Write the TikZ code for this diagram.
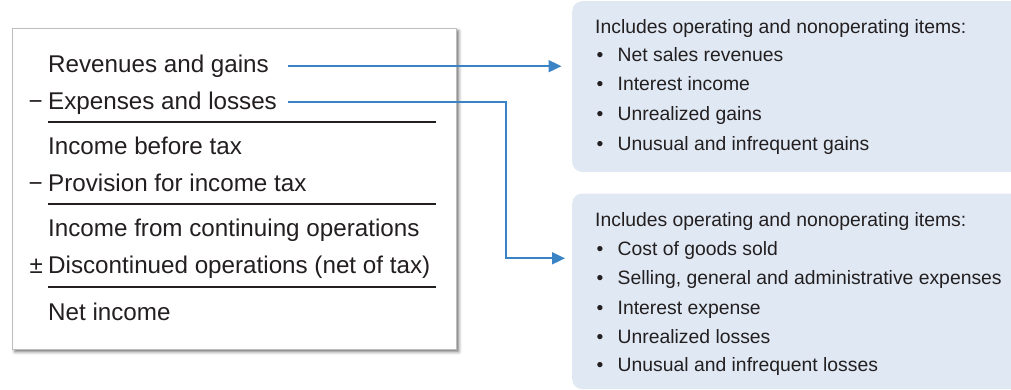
\documentclass[tikz,border=0pt]{standalone}
\usepackage{fontspec}
\setmainfont{Liberation Sans}
\usetikzlibrary{arrows.meta,shadows.blur}
\definecolor{txt}{HTML}{231F20}
\definecolor{arrowblue}{HTML}{3A84C6}
\definecolor{boxfill}{HTML}{DFE8F3}
\definecolor{frame}{HTML}{BDBDBD}
\begin{document}
\begin{tikzpicture}[x=1pt,y=-1pt,
  lt/.style={anchor=base west,inner sep=0pt,text=txt,font=\fontsize{24.2}{29}\selectfont},
  sg/.style={anchor=base east,inner sep=0pt,text=txt,font=\fontsize{24.2}{29}\selectfont},
  rt/.style={anchor=base west,inner sep=0pt,text=txt,font=\fontsize{19.35}{23}\selectfont},
  bul/.style={anchor=base west,inner sep=0pt,text=txt,font=\fontsize{19.35}{23}\selectfont},
  rulel/.style={line width=2pt,draw=txt},
  arr/.style={line width=1.8pt,draw=arrowblue,-{Triangle[length=13pt,width=12pt]}},
  bluebox/.style={fill=boxfill,rounded corners=10pt,inner sep=0pt,anchor=north west},
  stmtbox/.style={draw=frame,line width=0.6pt,fill=white,inner sep=0pt,anchor=north west,
    blur shadow={shadow xshift=2.5pt,shadow yshift=-2.5pt,shadow blur radius=3pt,shadow opacity=55}}
]
\useasboundingbox (0,0) rectangle (1011,389);
\clip (0,0) rectangle (1011,389);

% statement box
\node[stmtbox,minimum width=444pt,minimum height=321pt] (stmt) at (12,28) {};
\node[lt] (rev) at (48,72.7) {Revenues and gains};
\node[lt] (exp) at (48,109) {Expenses and losses};
\node[sg] (expsg) at (43,109) {−};
\draw[rulel] (48,121.7) -- (436,121.7);
\node[lt] (ibt) at (48,154) {Income before tax};
\node[lt] (prov) at (48,191.5) {Provision for income tax};
\node[sg] (provsg) at (43,191.5) {−};
\draw[rulel] (48,204) -- (436,204);
\node[lt] (icont) at (48,236.7) {Income from continuing operations};
\node[lt] (disc) at (48,273) {Discontinued operations (net of tax)};
\node[sg] (discsg) at (43,273) {±};
\draw[rulel] (48,286.7) -- (436,286.7);
\node[lt] (ni) at (48,320) {Net income};

% right boxes
\node[bluebox,minimum width=470pt,minimum height=170.7pt] (topbox) at (572,1) {};
\node[bluebox,minimum width=470pt,minimum height=195.5pt] (botbox) at (572,193.3) {};

\node[rt] (h1) at (595,33.3) {Includes operating and nonoperating items:};
\foreach \n/\y/\t in {a/61.7/Net sales revenues,b/90.9/Interest income,c/120.5/Unrealized gains,d/150/Unusual and infrequent gains}{
  \node[bul] (t\n dot) at (596.5,\y) {•};
  \node[rt] (t\n) at (617.5,\y) {\t};
}
\node[rt] (h2) at (595,226.7) {Includes operating and nonoperating items:};
\foreach \n/\y/\t in {a/255.7/Cost of goods sold,b/284.4/{Selling, general and administrative expenses},c/314.3/Interest expense,d/343.3/Unrealized losses,e/371.7/Unusual and infrequent losses}{
  \node[bul] (b\n dot) at (596.5,\y) {•};
  \node[rt] (b\n) at (617.5,\y) {\t};
}

% connectors
\coordinate (revout) at ([xshift=19pt,yshift=6.5pt]rev.base east);
\coordinate (expout) at ([yshift=6.8pt]revout |- exp.base);
\coordinate (bend) at (506,258.3);
\draw[arr] (revout) -- ([xshift=-10.5pt]topbox.west |- revout);
\draw[arr] (expout) -| (bend) -- ([xshift=-7pt]botbox.west |- bend);
\end{tikzpicture}
\end{document}
